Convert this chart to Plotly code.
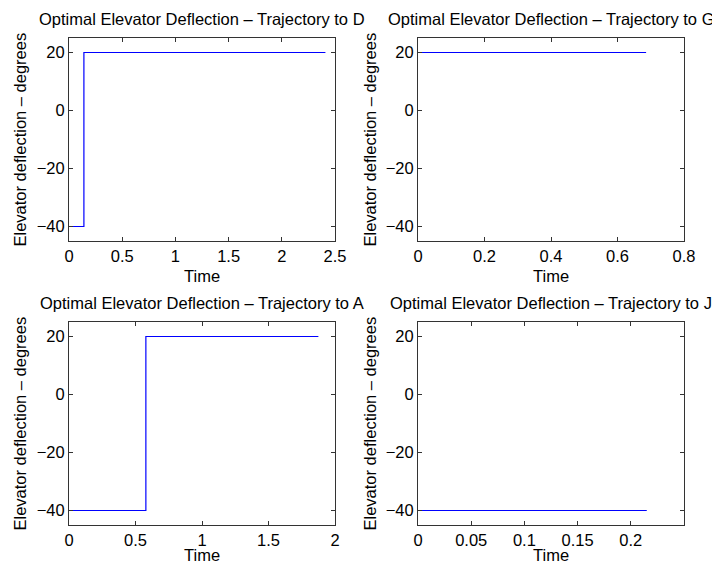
import plotly.graph_objects as go

# Data
titles = ["Optimal Elevator Deflection \u2013 Trajectory to D",
          "Optimal Elevator Deflection \u2013 Trajectory to G",
          "Optimal Elevator Deflection \u2013 Trajectory to A",
          "Optimal Elevator Deflection \u2013 Trajectory to J"]
t_D = [0, 0.14, 2.41]
u_D = [-40, 20, 20]
t_G = [0, 0.686]
u_G = [20, 20]
t_A = [0, 0.578, 1.875]
u_A = [-40, 20, 20]
t_J = [0, 0.215]
u_J = [-40, -40]
x_ranges = [[0, 2.5], [0, 0.8], [0, 2], [0, 0.25]]
x_ticks = [[0, 0.5, 1, 1.5, 2, 2.5], [0, 0.2, 0.4, 0.6, 0.8],
           [0, 0.5, 1, 1.5, 2], [0, 0.05, 0.1, 0.15, 0.2]]
x_ticktext = [["0", "0.5", "1", "1.5", "2", "2.5"], ["0", "0.2", "0.4", "0.6", "0.8"],
              ["0", "0.5", "1", "1.5", "2"], ["0", "0.05", "0.1", "0.15", "0.2"]]
y_range = [-45, 25]
y_ticks = [-40, -20, 0, 20]
x_label = "Time"
y_label = "Elevator deflection \u2013 degrees"

series = [(t_D, u_D), (t_G, u_G), (t_A, u_A), (t_J, u_J)]

# page is offset by the default 8px body margin
OFF = 8
W, H = 720 - OFF, 566 - OFF
boxes_page = [(69, 335, 38, 241), (418, 684, 38, 241), (69, 335, 322, 525), (418, 684, 322, 525)]
boxes = [(l - OFF, r - OFF, t - OFF, b - OFF) for (l, r, t, b) in boxes_page]
ylab_x = [19 - OFF, 369 - OFF, 19 - OFF, 369 - OFF]
xlab_y = [276 - OFF, 276 - OFF, 555 - OFF, 555 - OFF]
title_y = [19 - OFF, 19 - OFF, 303 - OFF, 303 - OFF]

FONT = "Liberation Sans, Arial, Helvetica, sans-serif"
FS = 16.5
fig = go.Figure()
layout = dict(width=W, height=H, margin=dict(l=0, r=0, t=0, b=0),
              paper_bgcolor="white", plot_bgcolor="white", showlegend=False,
              font=dict(family=FONT, size=FS, color="black"))
annotations = []
for i, ((t, u), (l, r, tp, bt)) in enumerate(zip(series, boxes)):
    n = "" if i == 0 else str(i + 1)
    fig.add_trace(go.Scatter(x=t, y=u, mode="lines", line=dict(color="#0000ff", width=1.2, shape="hv"),
                             xaxis="x" + n, yaxis="y" + n, hoverinfo="skip"))
    ax = dict(domain=[l / W, r / W], range=x_ranges[i], tickvals=x_ticks[i], ticktext=x_ticktext[i],
              ticks="inside", ticklen=4, tickcolor="#333", showline=True, linecolor="#333", linewidth=1,
              mirror="ticks", showgrid=False, zeroline=False, anchor="y" + n, automargin=False,
              tickfont=dict(size=FS))
    ay = dict(domain=[1 - bt / H, 1 - tp / H], range=y_range, tickvals=y_ticks,
              ticks="inside", ticklen=4, tickcolor="#333", showline=True, linecolor="#333", linewidth=1,
              mirror="ticks", showgrid=False, zeroline=False, anchor="x" + n, automargin=False,
              tickfont=dict(size=FS))
    layout["xaxis" + n] = ax
    layout["yaxis" + n] = ay
    annotations.append(dict(text=titles[i], x=(l + r) / 2 / W, y=1 - title_y[i] / H, xref="paper", yref="paper",
                            xanchor="center", yanchor="middle", showarrow=False, font=dict(size=FS)))
    annotations.append(dict(text=x_label, x=(l + r) / 2 / W, y=1 - xlab_y[i] / H, xref="paper", yref="paper",
                            xanchor="center", yanchor="middle", showarrow=False, font=dict(size=FS)))
    annotations.append(dict(text=y_label, x=ylab_x[i] / W, y=1 - (tp + bt) / 2 / H, xref="paper", yref="paper",
                            xanchor="center", yanchor="middle", textangle=-90, showarrow=False,
                            font=dict(size=FS)))
layout["annotations"] = annotations
fig.update_layout(**layout)
fig.write_html("out.html")
